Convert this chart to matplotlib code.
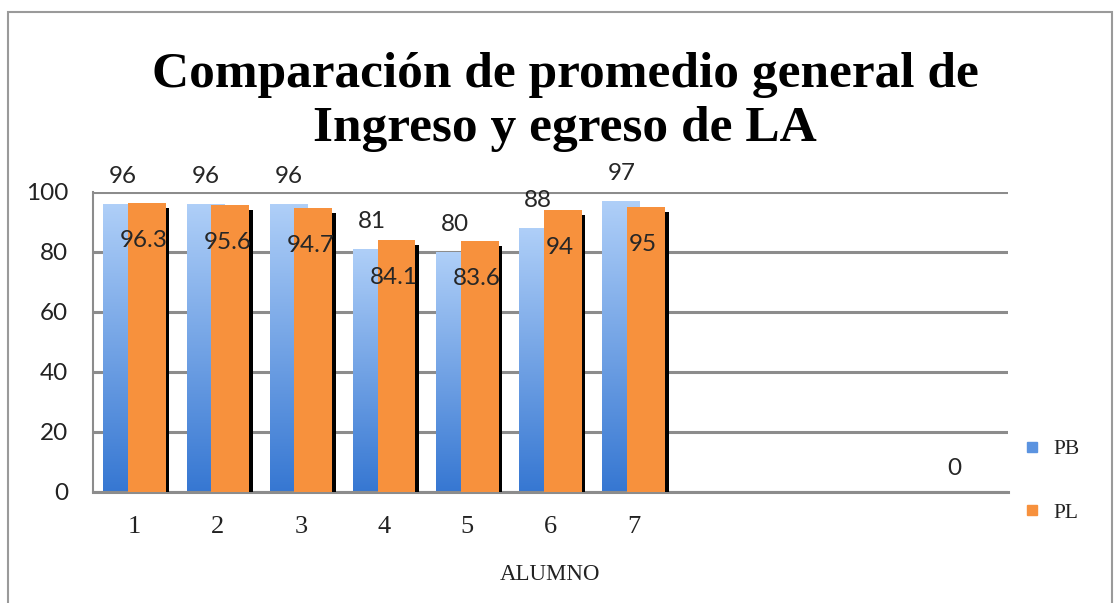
import numpy as np
import matplotlib
matplotlib.use("Agg")
import matplotlib.pyplot as plt
import matplotlib.patheffects as pe
from matplotlib.lines import Line2D
from matplotlib.patches import Rectangle
from matplotlib.colors import LinearSegmentedColormap

# ---- data ----
categories = ["1", "2", "3", "4", "5", "6", "7", "", "", "", ""]
pb_values = [96, 96, 96, 81, 80, 88, 97, np.nan, np.nan, np.nan, 0]
pl_values = [96.3, 95.6, 94.7, 84.1, 83.6, 94, 95, np.nan, np.nan, np.nan, np.nan]
pb_labels = ["96", "96", "96", "81", "80", "88", "97", "", "", "", "0"]
pl_labels = ["96.3", "95.6", "94.7", "84.1", "83.6", "94", "95", "", "", "", ""]
series_names = ["PB", "PL"]
title = "Comparación de promedio general de\nIngreso y egreso de LA"
xlabel = "ALUMNO"
yticks = [0, 20, 40, 60, 80, 100]

SERIF = "Liberation Serif"
SANS = "Lato"
BLUE_TOP = "#AFCFF8"
BLUE_BOT = "#3677D2"
BLUE = "#5B93E0"
ORANGE = "#F7913D"

fig = plt.figure(figsize=(11.15, 6.03), dpi=100)
ax = fig.add_axes([93/1115, 1-492/603, (1008-93)/1115, 300/603])

x = np.arange(len(categories))
w = 0.455
off = 0.148

pb_bars = ax.bar(x - off, [0 if np.isnan(v) else v for v in pb_values], w,
                 color=BLUE, zorder=2, linewidth=0)
pl_bars = ax.bar(x + off, [0 if np.isnan(v) else v for v in pl_values], w,
                 color=ORANGE, zorder=3, linewidth=0,
                 path_effects=[pe.SimplePatchShadow(offset=(2.6, -3.6), shadow_rgbFace="black",
                                                    alpha=1.0), pe.Normal()])

# gradient on blue bars
grad = np.linspace(0, 1, 256).reshape(-1, 1)
cmap = LinearSegmentedColormap.from_list("bl", [BLUE_BOT, BLUE_TOP])
for b in pb_bars:
    h = b.get_height()
    if h <= 0:
        continue
    x0 = b.get_x()
    im = ax.imshow(grad, extent=[x0, x0 + b.get_width(), 0, h], origin="lower",
                   cmap=cmap, aspect="auto", zorder=2.5)
    im.set_clip_path(b)

ax.set_xlim(-0.5, len(categories) - 0.5)
ax.set_ylim(0, 100)
ax.set_yticks(yticks)
ax.set_xticks(x)
ax.set_xticklabels(categories, fontfamily=SERIF, fontsize=19, color="#222222")
ax.tick_params(axis="both", length=0)
ax.tick_params(axis="y", pad=18, labelsize=17.5, labelcolor="#222222")
ax.tick_params(axis="x", pad=17)
for t in ax.get_yticklabels():
    t.set_fontfamily(SANS)
ax.grid(axis="y", color="#8C8C8C", linewidth=2.2, zorder=0)
ax.set_axisbelow(True)
for s in ["top", "right"]:
    ax.spines[s].set_visible(False)
ax.spines["left"].set_color("#8C8C8C")
ax.spines["left"].set_linewidth(1.5)
ax.spines["bottom"].set_color("#8C8C8C")
ax.spines["bottom"].set_linewidth(2.2)

ax.set_xlabel(xlabel, fontfamily=SERIF, fontsize=16.5, color="#222222", labelpad=19)

# data labels
for i, (v, lab) in enumerate(zip(pb_values, pb_labels)):
    if lab == "" or np.isnan(v):
        continue
    ax.annotate(lab, (x[i] - off, v), xytext=(0, 19.5 if v > 0 else 17), textcoords="offset points",
                ha="center", va="center", fontfamily=SANS, fontsize=17.5, color="#262626",
                annotation_clip=False, zorder=6)
for i, (v, lab) in enumerate(zip(pl_values, pl_labels)):
    if lab == "" or np.isnan(v):
        continue
    ax.annotate(lab, (x[i] + off, v), xytext=(-2, -27), textcoords="offset points",
                ha="center", va="center", fontfamily=SANS, fontsize=17.5, color="#262626",
                annotation_clip=False, zorder=6)

# title
fig.text(565/1115, 1 - 102/603, title, ha="center", va="center", fontfamily=SERIF,
         fontweight="bold", fontsize=37, linespacing=1.25, color="black")

# legend
handles = [Line2D([], [], marker="s", linestyle="none", markersize=6.5, color=c)
           for c in [BLUE, ORANGE]]
leg = fig.legend(handles, series_names, loc="center left",
                 bbox_to_anchor=(1004/1115, 1 - 481/603), frameon=False,
                 prop={"family": SERIF, "size": 15.5}, labelspacing=2.0,
                 handlelength=0.8, handletextpad=0.6)
for t in leg.get_texts():
    t.set_color("#222222")

# outer chart frame
fig.patches.append(Rectangle((8/1115, -0.05), 1104/1115, 1.05 - 12/603, transform=fig.transFigure,
                             fill=False, edgecolor="#9A9A9A", linewidth=1.5))

fig.savefig("out.png", dpi=100, facecolor="white")
